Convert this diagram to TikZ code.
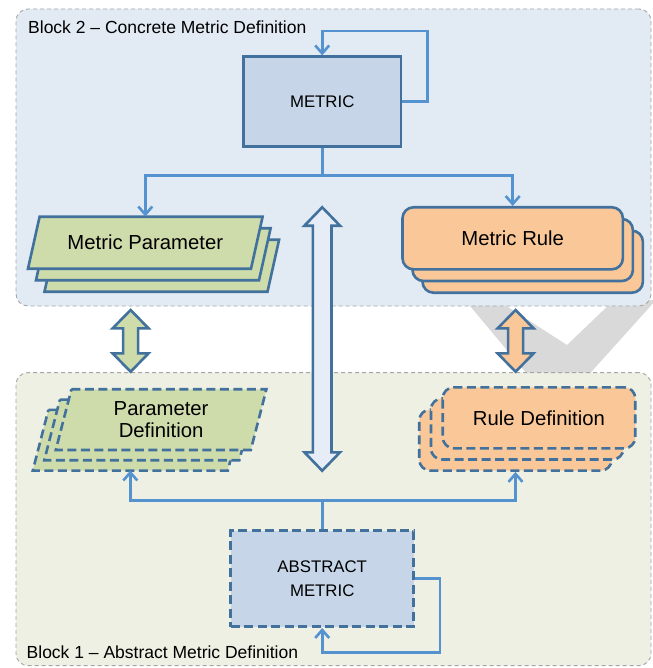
\documentclass[tikz,border=0pt]{standalone}
\usepackage{fontspec}
\setmainfont{Liberation Sans}
\usetikzlibrary{arrows.meta,calc}
\definecolor{bgtwo}{HTML}{E2EAF3}
\definecolor{bgone}{HTML}{EEF0E4}
\definecolor{bordergray}{HTML}{A6A6A6}
\definecolor{dkblue}{HTML}{41719C}
\definecolor{cblue}{HTML}{5592D0}
\definecolor{metf}{HTML}{C6D6E8}
\definecolor{greenf}{HTML}{CEDBAB}
\definecolor{peachf}{HTML}{FAC898}
\definecolor{vgray}{HTML}{D9D9D9}
\definecolor{arrf}{HTML}{E6EDF6}
\newcommand\DrawPara[6]{% cx cy hw hh slant style
  \draw[#6] ({#1-#3+#5},{#2-#4}) -- ({#1+#3+#5},{#2-#4}) -- ({#1+#3-#5},{#2+#4}) -- ({#1-#3-#5},{#2+#4}) -- cycle;}
\newcommand\DblArrow[7]{% cx ytop ybot headlen headhalf shafthalf style
  \draw[#7] (#1,#2) -- ({#1+#5},{#2+#4}) -- ({#1+#6},{#2+#4}) -- ({#1+#6},{#3-#4}) -- ({#1+#5},{#3-#4})
   -- (#1,#3) -- ({#1-#5},{#3-#4}) -- ({#1-#6},{#3-#4}) -- ({#1-#6},{#2+#4}) -- ({#1-#5},{#2+#4}) -- cycle;}
\begin{document}
\begin{tikzpicture}[x=1pt,y=-1pt,
  blockbox/.style={draw=bordergray, line width=0.9pt, dash pattern=on 4pt off 3pt, rounded corners=12pt, inner sep=0pt},
  solidshape/.style={draw=dkblue, line width=2.6pt},
  dashshape/.style={draw=dkblue, line width=2.6pt, dash pattern=on 9pt off 4.5pt},
  conn/.style={draw=cblue, line width=2.6pt},
  arr/.style={conn, -{Straight Barb[length=8pt,width=14pt]}},
  titletext/.style={font=\fontsize{17.5}{20}\selectfont, anchor=west, inner sep=0pt},
  bigtext/.style={font=\fontsize{20.3}{22.4}\selectfont, align=center, inner sep=0pt},
  captext/.style={font=\fontsize{16.8}{24.4}\selectfont, align=center},
  dblarrow/.style={draw=dkblue, line width=2.6pt, line join=miter}
]
\useasboundingbox (0,0) rectangle (652,668);
% gray watermark V
\fill[vgray] (465,300) -- (557,410) -- (656,300) -- (614,300) -- (567,345) -- (497,300) -- cycle;
% blocks
\node[blockbox, fill=bgtwo, minimum width=635pt, minimum height=297pt] (block2) at (333.5,157.5) {};
\node[blockbox, fill=bgone, minimum width=635pt, minimum height=293pt] (block1) at (333.5,519.1) {};
\node[titletext] (t2) at (28,27.3) {Block 2 – Concrete Metric Definition};
\node[titletext] (t1) at (26.5,652.3) {Block 1 – Abstract Metric Definition};
% METRIC
\node[solidshape, fill=metf, minimum width=157.7pt, minimum height=90pt, captext] (metric) at (322.2,101.7) {METRIC};
% Metric Parameter stack
\DrawPara{161.8}{265.7}{111.5}{26}{5.8}{solidshape, fill=greenf}
\DrawPara{153.3}{254.2}{111.5}{26}{5.8}{solidshape, fill=greenf}
\DrawPara{145.3}{242.7}{111.5}{26}{5.8}{solidshape, fill=greenf}
\node[bigtext, minimum width=223pt, minimum height=52pt] (mp) at (145.3,242.7) {Metric Parameter};
% Metric Rule stack
\node[solidshape, fill=peachf, rounded corners=11pt, minimum width=220.4pt, minimum height=62pt] (mr3) at (532.7,261.7) {};
\node[solidshape, fill=peachf, rounded corners=11pt, minimum width=220.4pt, minimum height=62pt] (mr2) at (522.7,250) {};
\node[solidshape, fill=peachf, rounded corners=11pt, minimum width=220.4pt, minimum height=62pt, bigtext] (mr) at (512.7,238.3) {Metric Rule};
% Parameter Definition stack
\DrawPara{138.1}{440.2}{97.5}{30.35}{7.8}{dashshape, fill=greenf}
\DrawPara{149.6}{429.9}{97.5}{30.35}{7.8}{dashshape, fill=greenf}
\DrawPara{161.1}{419.6}{97.5}{30.35}{7.8}{dashshape, fill=greenf}
\node[bigtext, minimum width=195pt, minimum height=60.7pt] (pd) at (161.1,419.6) {Parameter\\Definition};
\coordinate (pdbot) at (130.3,470.5);
% Rule Definition stack
\node[dashshape, fill=peachf, rounded corners=11pt, minimum width=192.5pt, minimum height=61pt] (rd3) at (515.5,440.1) {};
\node[dashshape, fill=peachf, rounded corners=11pt, minimum width=192.5pt, minimum height=61pt] (rd2) at (527.2,429) {};
\node[dashshape, fill=peachf, rounded corners=11pt, minimum width=192.5pt, minimum height=61pt, bigtext] (rd) at (539,417.8) {Rule Definition};
% ABSTRACT METRIC
\node[dashshape, fill=metf, minimum width=183pt, minimum height=96pt, captext] (am) at (322.2,578.7) {ABSTRACT\\METRIC};
% double arrows
\DblArrow{322.2}{207.3}{470.7}{18.4}{17.8}{9.3}{dblarrow, fill=arrf}
\DblArrow{130.6}{310}{371.7}{18.3}{17.9}{7.5}{dblarrow, fill=greenf}
\DblArrow{515.6}{310}{371.7}{18.3}{17.9}{7.5}{dblarrow, fill=peachf}
% connectors block 2
\coordinate (loopA) at (427.7,31);
\draw[arr] (metric.east) -| (loopA) -| (metric.north);
\coordinate (brA) at (322.2,175.7);
\draw[conn] (metric.south) -- (brA);
\draw[arr] (brA) -| (mp.north);
\draw[arr] (brA) -| (mr.north);
% connectors block 1
\coordinate (brB) at (322.2,500.7);
\draw[conn] (am.north) -- (brB);
\draw[arr] (brB) -| (pdbot);
\draw[arr] (brB) -| (rd3.south);
\coordinate (loopB) at (440,652.3);
\draw[arr] (am.east) -| (loopB) -| (am.south);
\end{tikzpicture}
\end{document}
